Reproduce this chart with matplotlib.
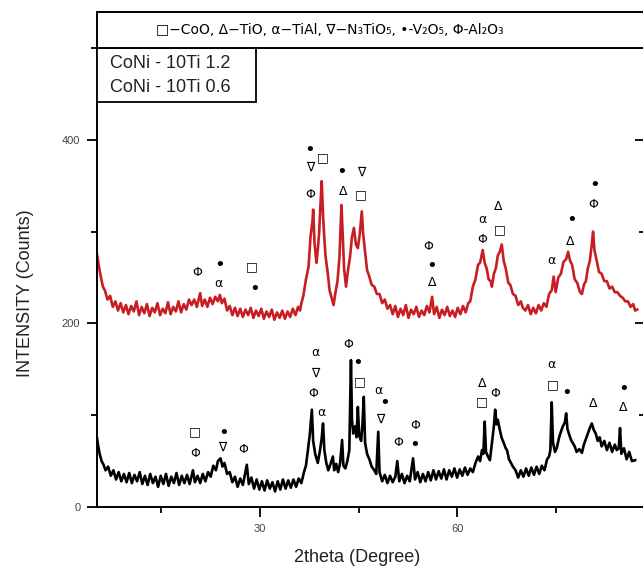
import matplotlib
matplotlib.use('Agg')
import matplotlib.pyplot as plt
from matplotlib.patches import Rectangle
from matplotlib.ticker import MultipleLocator

plt.rcParams['font.family'] = ['Liberation Sans', 'DejaVu Sans']

# CoNi - 10Ti 1.2 (red)
red_2theta = [
    5.2, 5.5, 5.8, 6.1, 6.4, 6.8, 7.2, 7.6, 8.0, 8.4,
    8.8, 9.2, 9.6, 10.0, 10.4, 10.8, 11.2, 11.6, 12.0, 12.4,
    12.8, 13.2, 13.6, 14.0, 14.4, 14.8, 15.2, 15.6, 16.0, 16.4,
    16.8, 17.2, 17.6, 18.0, 18.4, 18.8, 19.2, 19.6, 20.0, 20.4,
    20.9, 21.2, 21.6, 22.0, 22.4, 22.8, 23.2, 23.6, 23.9, 24.2,
    24.6, 25.0, 25.4, 25.8, 26.2, 26.6, 27.0, 27.4, 27.8, 28.2,
    28.6, 29.0, 29.4, 29.8, 30.2, 30.6, 31.0, 31.4, 31.8, 32.2,
    32.6, 33.0, 33.4, 33.8, 34.2, 34.6, 35.0, 35.4, 35.8, 36.1,
    36.3, 36.6, 37.0, 37.4, 37.7, 38.0, 38.1, 38.3, 38.6, 38.8,
    39.0, 39.2, 39.4, 39.6, 39.8, 40.0, 40.3, 40.6, 40.9, 41.2,
    41.5, 41.8, 42.1, 42.4, 42.6, 42.8, 43.1, 43.4, 43.7, 44.0,
    44.3, 44.6, 44.9, 45.2, 45.5, 45.7, 46.0, 46.3, 46.6, 47.0,
    47.4, 47.8, 48.2, 48.6, 49.0, 49.4, 49.8, 50.2, 50.6, 51.0,
    51.4, 51.8, 52.2, 52.6, 53.0, 53.4, 53.8, 54.2, 54.6, 55.0,
    55.4, 55.8, 56.2, 56.5, 56.9, 57.3, 57.7, 58.1, 58.5, 58.9,
    59.3, 59.7, 60.1, 60.5, 60.9, 61.3, 61.7, 62.0, 62.4, 62.8,
    63.2, 63.5, 63.9, 64.2, 64.5, 64.8, 65.1, 65.3, 65.6, 65.9,
    66.2, 66.5, 66.8, 67.1, 67.4, 67.8, 68.1, 68.5, 68.9, 69.3,
    69.7, 70.0, 70.4, 70.8, 71.2, 71.6, 72.0, 72.4, 72.8, 73.2,
    73.6, 74.0, 74.4, 74.7, 75.0, 75.4, 75.8, 76.2, 76.6, 76.9,
    77.2, 77.5, 77.9, 78.3, 78.7, 79.0, 79.3, 79.6, 79.9, 80.2,
    80.5, 80.7, 80.9, 81.2, 81.6, 82.0, 82.4, 82.8, 83.2, 83.6,
    84.0, 84.4, 84.8, 85.2, 85.6, 86.0, 86.4, 86.8, 87.1, 87.4,
]
red_counts = [
    275, 262, 250, 240, 236, 226, 230, 218, 224, 214,
    222, 212, 220, 210, 219, 213, 224, 209, 218, 211,
    221, 208, 217, 212, 222, 209, 216, 211, 223, 210,
    218, 213, 224, 212, 221, 215, 226, 220, 226, 218,
    233, 219, 226, 218, 228, 221, 229, 224, 231, 222,
    227, 214, 219, 209, 217, 208, 216, 207, 215, 209,
    217, 206, 214, 208, 216, 205, 213, 207, 215, 204,
    212, 206, 214, 205, 213, 207, 216, 209, 218, 214,
    222, 230, 248, 262, 295, 312, 324, 288, 266, 280,
    298, 328, 355, 318, 292, 272, 256, 236, 228, 220,
    234, 246, 272, 329, 296, 260, 240, 258, 272, 294,
    304, 286, 282, 298, 322, 298, 278, 258, 252, 242,
    240, 232, 232, 222, 226, 216, 220, 210, 219, 207,
    216, 209, 220, 206, 215, 210, 218, 207, 214, 209,
    219, 212, 229, 210, 218, 206, 215, 209, 218, 208,
    214, 207, 217, 210, 219, 212, 222, 224, 240, 248,
    264, 266, 280, 266, 260, 248, 246, 240, 254, 260,
    274, 278, 286, 268, 260, 244, 242, 232, 230, 220,
    224, 217, 214, 220, 210, 217, 211, 220, 214, 222,
    218, 232, 236, 251, 234, 250, 254, 267, 270, 278,
    268, 264, 248, 244, 234, 232, 242, 246, 260, 268,
    286, 300, 280, 270, 256, 254, 246, 246, 238, 240,
    234, 234, 230, 228, 224, 224, 218, 221, 214, 215,
]

# CoNi - 10Ti 0.6 (black)
black_2theta = [
    5.2, 5.4, 5.6, 5.9, 6.2, 6.5, 6.9, 7.3, 7.7, 8.1,
    8.5, 8.9, 9.3, 9.7, 10.1, 10.5, 10.9, 11.3, 11.7, 12.1,
    12.5, 12.9, 13.3, 13.7, 14.1, 14.5, 14.9, 15.3, 15.7, 16.1,
    16.5, 16.9, 17.3, 17.7, 18.1, 18.5, 18.9, 19.3, 19.8, 20.1,
    20.5, 20.9, 21.3, 21.7, 22.1, 22.5, 22.9, 23.3, 23.6, 24.0,
    24.3, 24.6, 25.0, 25.4, 25.8, 26.2, 26.6, 27.0, 27.4, 28.0,
    28.3, 28.7, 29.1, 29.5, 29.9, 30.3, 30.7, 31.1, 31.5, 31.9,
    32.3, 32.7, 33.1, 33.5, 33.9, 34.3, 34.7, 35.1, 35.5, 35.9,
    36.3, 36.7, 37.0, 37.3, 37.6, 37.9, 38.1, 38.4, 38.8, 39.1,
    39.4, 39.6, 39.8, 40.1, 40.4, 40.7, 41.1, 41.3, 41.6, 41.9,
    42.2, 42.5, 42.7, 43.0, 43.3, 43.6, 43.85, 44.0, 44.2, 44.5,
    44.7, 44.9, 45.1, 45.4, 45.6, 45.8, 46.0, 46.3, 46.7, 47.0,
    47.4, 47.7, 48.0, 48.2, 48.6, 49.0, 49.4, 49.8, 50.2, 50.6,
    50.9, 51.2, 51.6, 52.0, 52.4, 52.8, 53.3, 53.6, 54.0, 54.4,
    54.8, 55.2, 55.6, 56.0, 56.4, 56.8, 57.2, 57.6, 58.0, 58.4,
    58.8, 59.2, 59.6, 60.0, 60.4, 60.8, 61.2, 61.6, 62.0, 62.4,
    62.8, 63.2, 63.5, 63.8, 64.0, 64.2, 64.4, 64.7, 65.0, 65.3,
    65.6, 65.8, 66.0, 66.2, 66.5, 66.8, 67.1, 67.4, 67.6, 67.9,
    68.2, 68.5, 68.9, 69.3, 69.7, 70.1, 70.5, 70.9, 71.3, 71.7,
    72.1, 72.5, 72.9, 73.3, 73.7, 74.0, 74.2, 74.4, 74.6, 74.9,
    75.2, 75.5, 75.8, 76.1, 76.4, 76.6, 76.8, 77.1, 77.4, 77.6,
    77.9, 78.2, 78.6, 79.0, 79.3, 79.6, 79.9, 80.2, 80.5, 80.8,
    81.1, 81.4, 81.7, 82.0, 82.4, 82.8, 83.2, 83.6, 84.0, 84.3,
    84.6, 84.8, 85.0, 85.4, 85.8, 86.2, 86.6, 87.1,
]
black_counts = [
    75, 66, 58, 50, 46, 40, 44, 34, 40, 30,
    38, 28, 36, 27, 37, 26, 35, 28, 38, 25,
    34, 24, 36, 26, 33, 22, 34, 25, 36, 23,
    33, 26, 37, 24, 34, 26, 35, 25, 40, 27,
    34, 26, 36, 28, 38, 33, 45, 40, 50, 53,
    44, 48, 36, 38, 27, 33, 22, 31, 24, 46,
    25, 32, 20, 30, 19, 28, 18, 29, 20, 27,
    17, 28, 19, 30, 20, 29, 21, 30, 22, 31,
    26, 38, 45, 62, 80, 106, 72, 58, 48, 60,
    75, 91, 62, 48, 40, 46, 55, 40, 47, 38,
    48, 73, 45, 42, 50, 62, 160, 95, 80, 88,
    76, 109, 78, 72, 90, 120, 70, 58, 51, 44,
    40, 36, 82, 38, 28, 35, 26, 34, 27, 33,
    50, 28, 36, 26, 34, 28, 53, 30, 38, 27,
    36, 28, 38, 29, 40, 30, 39, 31, 41, 30,
    40, 33, 42, 32, 41, 34, 43, 35, 42, 38,
    48, 55, 50, 62, 58, 93, 60, 55, 51, 70,
    88, 106, 90, 95, 84, 75, 70, 64, 62, 52,
    48, 44, 40, 32, 40, 33, 42, 34, 43, 35,
    44, 36, 45, 40, 52, 55, 62, 114, 70, 60,
    65, 75, 82, 88, 92, 102, 85, 78, 72, 70,
    66, 60, 63, 59, 68, 74, 80, 86, 91, 84,
    80, 72, 76, 66, 72, 62, 70, 60, 68, 62,
    64, 86, 58, 64, 52, 60, 50, 51,
]

# phase markers placed over the peaks
red_mark_sym = ['Φ', '•', 'α', '□', '•', '•', '∇', 'Φ', '□', '•', 'Δ', '∇', '□',
                'Φ', '•', 'Δ', 'α', 'Φ', 'Δ', '□', 'α', '•', 'Δ', '•', 'Φ']
red_mark_x = [20.4, 23.9, 23.6, 28.8, 29.2, 37.6, 37.6, 37.6, 39.6, 42.5, 42.6, 45.4, 45.4,
              55.6, 56.2, 56.2, 63.8, 63.8, 66.2, 66.5, 74.4, 77.5, 77.2, 81.0, 80.7]
red_mark_y = [255, 264, 243, 262, 238, 389, 370, 340, 381, 365, 344, 365, 340,
              284, 263, 245, 313, 291, 327, 302, 269, 313, 289, 351, 329]

black_mark_sym = ['□', 'Φ', '•', '∇', 'Φ', 'α', '∇', 'Φ', 'α', 'Φ', '•', '□', 'α', '•',
                  '∇', 'Φ', 'Φ', '•', 'Δ', '□', 'Φ', 'α', '□', '•', 'Δ', '•', 'Δ']
black_mark_x = [20.1, 20.1, 24.4, 24.2, 27.4, 38.4, 38.4, 38.1, 39.4, 43.4, 44.9, 45.2, 48.0, 49.0,
                48.3, 51.0, 53.6, 53.6, 63.8, 63.8, 65.8, 74.4, 74.6, 76.7, 80.7, 85.3, 85.3]
black_mark_y = [82, 58, 81, 65, 63, 168, 146, 124, 103, 177, 157, 136, 127, 113,
                96, 70, 89, 68, 135, 115, 124, 155, 133, 124, 113, 128, 108]

phase_key = '□−CoO, Δ−TiO, α−TiAl, ∇−N₃TiO₅, •-V₂O₅, Φ-Al₂O₃'
sample_labels = ['CoNi - 10Ti 1.2', 'CoNi - 10Ti 0.6']

W, H = 643, 571
fig = plt.figure(figsize=(W / 100, H / 100), dpi=100)
# right spine sits just past the cropped edge, like the source image
ax = fig.add_axes([97 / W, (H - 507) / H, 548 / W, 459 / H])

ax.plot(red_2theta, red_counts, color='#c81e23', linewidth=1.9)
ax.plot(black_2theta, black_counts, color='black', linewidth=1.9)

for s, x, y in zip(red_mark_sym + black_mark_sym, red_mark_x + black_mark_x,
                   red_mark_y + black_mark_y):
    ax.text(x, y, s, ha='center', va='center', color='black',
            fontsize=13 if s == '•' else 9, family=['DejaVu Sans'])

ax.set_xlim(5.2, 88.6)
ax.set_ylim(0, 500)
ax.xaxis.set_major_locator(MultipleLocator(30))
ax.xaxis.set_minor_locator(MultipleLocator(15))
ax.yaxis.set_major_locator(MultipleLocator(200))
ax.yaxis.set_minor_locator(MultipleLocator(100))
ax.tick_params(axis='both', which='major', direction='out', length=7, width=1.3,
               labelsize=8, labelcolor='#444444', pad=5)
ax.tick_params(axis='both', which='minor', direction='out', length=4.5, width=1.3)
ax.tick_params(axis='y', which='both', right=True)
for t in ax.yaxis.get_ticklines(minor=False)[1::2] + ax.yaxis.get_ticklines(minor=True)[1::2]:
    t.set_marker(0)  # inward ticks on the right side
for sp in ax.spines.values():
    sp.set_linewidth(1.4)

ax.set_ylabel('INTENSITY (Counts)', fontsize=13, color='#222222', va='center')
ax.yaxis.set_label_coords(-0.131, 0.466)
ax.set_xlabel('2theta (Degree)', fontsize=13, color='#222222', va='center')
ax.xaxis.set_label_coords(0.474, -0.111)

# phase key box above the plot
fig.patches.append(Rectangle((97 / W, (H - 48) / H), 1.0, 36 / H, transform=fig.transFigure,
                             facecolor='white', edgecolor='black', linewidth=1.4))
fig.text(330 / W, (H - 30) / H, phase_key, ha='center', va='center', fontsize=10,
         family=['DejaVu Sans'])

# sample key box in the top-left corner
ax.add_patch(Rectangle((0, 0.882), 0.29, 0.118, transform=ax.transAxes,
                       facecolor='white', edgecolor='black', linewidth=1.3, zorder=5))
ax.text(0.024, 0.967, sample_labels[0], transform=ax.transAxes, va='center',
        fontsize=13, color='#222222', zorder=6)
ax.text(0.024, 0.913, sample_labels[1], transform=ax.transAxes, va='center',
        fontsize=13, color='#222222', zorder=6)

fig.savefig('out.png', dpi=100)
